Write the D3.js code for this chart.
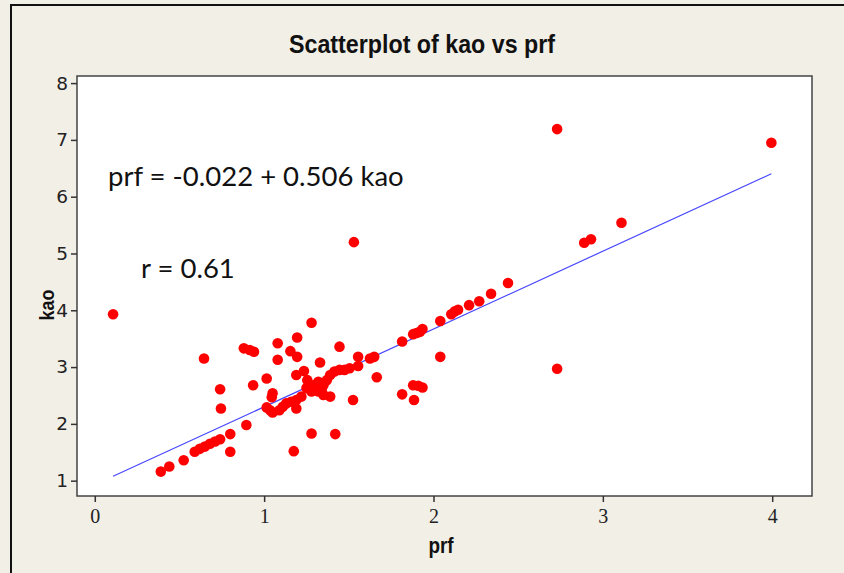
<!DOCTYPE html>
<html>
<head>
<meta charset="utf-8">
<script src="https://cdn.jsdelivr.net/npm/d3@7"></script>
<style>
  body { margin: 0; background: #f2efe7; }
  svg { display: block; }
</style>
</head>
<body>
<div id="chart"></div>
<script>
// prf (x) values
let prf = [
  0.108, 0.39, 0.44, 0.525, 0.59, 0.62, 0.65, 0.68, 0.71, 0.74,
  0.80, 0.80, 0.895, 0.745, 0.74, 0.645, 0.88, 0.915, 0.94, 0.935,
  1.015, 1.08, 1.08, 1.05, 1.045, 1.015, 1.035, 1.05, 1.09, 1.11,
  1.13, 1.16, 1.19, 1.22, 1.19, 1.175, 1.195, 1.155, 1.195, 1.28,
  1.33, 1.235, 1.19, 1.255, 1.29, 1.32, 1.35, 1.25, 1.28, 1.32,
  1.35, 1.39, 1.28, 1.39, 1.415, 1.445, 1.475, 1.505, 1.37, 1.445,
  1.555, 1.555, 1.625, 1.65, 1.665, 1.525, 1.42, 1.53, 1.815, 1.88,
  1.90, 1.92, 1.935, 2.04, 2.04, 1.815, 1.885, 1.88, 1.91, 1.935,
  2.105, 2.125, 2.145, 2.21, 2.27, 2.34, 2.44, 2.73, 2.73, 2.89,
  2.93, 3.11, 3.995, 1.34
];
// kao (y) values
let kao = [
  3.93, 1.16, 1.25, 1.36, 1.51, 1.56, 1.60, 1.65, 1.69, 1.73,
  1.82, 1.51, 1.98, 2.27, 2.61, 3.15, 3.33, 3.30, 3.27, 2.68,
  2.80, 3.42, 3.13, 2.54, 2.47, 2.29, 2.24, 2.20, 2.24, 2.30,
  2.36, 2.39, 2.42, 2.48, 2.27, 1.52, 3.52, 3.28, 3.18, 3.78,
  3.08, 2.93, 2.86, 2.77, 2.68, 2.74, 2.68, 2.63, 2.57, 2.57,
  2.51, 2.48, 1.83, 2.86, 2.92, 2.95, 2.95, 2.98, 2.77, 3.36,
  3.18, 3.02, 3.15, 3.18, 2.82, 2.42, 1.82, 5.20, 3.45, 3.58,
  3.60, 3.62, 3.67, 3.81, 3.18, 2.52, 2.42, 2.68, 2.67, 2.64,
  3.93, 3.98, 4.01, 4.09, 4.16, 4.29, 4.48, 2.97, 7.19, 5.19,
  5.25, 5.54, 6.95, 2.60
];
let x_ticks = [0, 1, 2, 3, 4];
let y_ticks = [1, 2, 3, 4, 5, 6, 7, 8];

// fitted line as drawn on the plot (kao on prf)
let fit_intercept = 0.93;
let fit_slope = 1.37;

let data = prf.map((d, i) => [d, kao[i]]);

let chart_width = 844;
let chart_height = 573;
let narrow = '"Liberation Sans", Arial, sans-serif';

let svg = d3
  .select('#chart')
  .append('svg')
  .attr('width', chart_width)
  .attr('height', chart_height);

svg.append('rect')
  .attr('width', chart_width)
  .attr('height', chart_height)
  .attr('fill', '#f2efe7');

// outer border (top and left edges of the screenshot)
svg.append('path')
  .attr('d', 'M11,573 L11,5 L844,5')
  .attr('fill', 'none')
  .attr('stroke', '#111')
  .attr('stroke-width', 2);

let x_scale = d3.scaleLinear().domain([-0.105, 4.235]).range([77, 812]);
let y_scale = d3.scaleLinear().domain([0.73, 8.125]).range([496, 76]);

// plot area
svg.append('rect')
  .attr('x', x_scale.range()[0])
  .attr('y', y_scale.range()[1])
  .attr('width', x_scale.range()[1] - x_scale.range()[0])
  .attr('height', y_scale.range()[0] - y_scale.range()[1])
  .attr('fill', '#fff')
  .attr('stroke', '#444')
  .attr('stroke-width', 1.5);

let x_axis = d3.axisBottom(x_scale).tickValues(x_ticks).tickSize(6).tickSizeOuter(0).tickFormat(d3.format('d'));
let gx = svg.append('g')
  .attr('transform', 'translate(0,' + y_scale.range()[0] + ')')
  .call(x_axis);
gx.select('.domain').remove();
gx.selectAll('line').attr('stroke', '#333').attr('stroke-width', 1.5);
gx.selectAll('text')
  .attr('font-family', '"Liberation Serif", serif')
  .attr('font-size', 20)
  .attr('fill', '#222')
  .attr('dy', '0.9em');

let y_axis = d3.axisLeft(y_scale).tickValues(y_ticks).tickSize(6).tickSizeOuter(0).tickFormat(d3.format('d'));
let gy = svg.append('g')
  .attr('transform', 'translate(' + x_scale.range()[0] + ',0)')
  .call(y_axis);
gy.select('.domain').remove();
gy.selectAll('line').attr('stroke', '#333').attr('stroke-width', 1.5);
gy.selectAll('text')
  .attr('font-family', '"DejaVu Sans", sans-serif')
  .attr('font-size', 18.5)
  .attr('fill', '#222')
  .attr('x', -9);

// regression line
let x_ext = d3.extent(prf);
svg.append('line')
  .attr('x1', x_scale(x_ext[0]))
  .attr('y1', y_scale(fit_intercept + fit_slope * x_ext[0]))
  .attr('x2', x_scale(x_ext[1]))
  .attr('y2', y_scale(fit_intercept + fit_slope * x_ext[1]))
  .attr('stroke', '#4848ff')
  .attr('stroke-width', 1.2);

svg.append('g')
  .selectAll('circle')
  .data(data)
  .enter()
  .append('circle')
  .attr('cx', d => x_scale(d[0]))
  .attr('cy', d => y_scale(d[1]))
  .attr('r', 5.3)
  .attr('fill', '#f00');

// title and axis labels (condensed bold, squeezed horizontally)
svg.append('text')
  .attr('transform', 'translate(422,53) scale(0.93,1)')
  .attr('text-anchor', 'middle')
  .attr('font-family', narrow)
  .attr('font-weight', 'bold')
  .attr('font-size', 25)
  .attr('fill', '#111')
  .text('Scatterplot of kao vs prf');

svg.append('text')
  .attr('transform', 'translate(441,553) scale(0.86,1)')
  .attr('text-anchor', 'middle')
  .attr('font-family', narrow)
  .attr('font-weight', 'bold')
  .attr('font-size', 22)
  .attr('fill', '#111')
  .text('prf');

svg.append('text')
  .attr('transform', 'translate(54,305) rotate(-90) scale(0.86,1)')
  .attr('text-anchor', 'middle')
  .attr('font-family', narrow)
  .attr('font-weight', 'bold')
  .attr('font-size', 21)
  .attr('fill', '#111')
  .text('kao');

// annotations
svg.append('text')
  .attr('x', 108)
  .attr('y', 186)
  .attr('font-family', 'Lato, "Open Sans", sans-serif')
  .attr('font-size', 27.5)
  .attr('fill', '#111')
  .text('prf = -0.022 + 0.506 kao');

svg.append('text')
  .attr('x', 141)
  .attr('y', 278)
  .attr('font-family', 'Lato, "Open Sans", sans-serif')
  .attr('font-size', 27.5)
  .attr('fill', '#111')
  .text('r = 0.61');
</script>
</body>
</html>
